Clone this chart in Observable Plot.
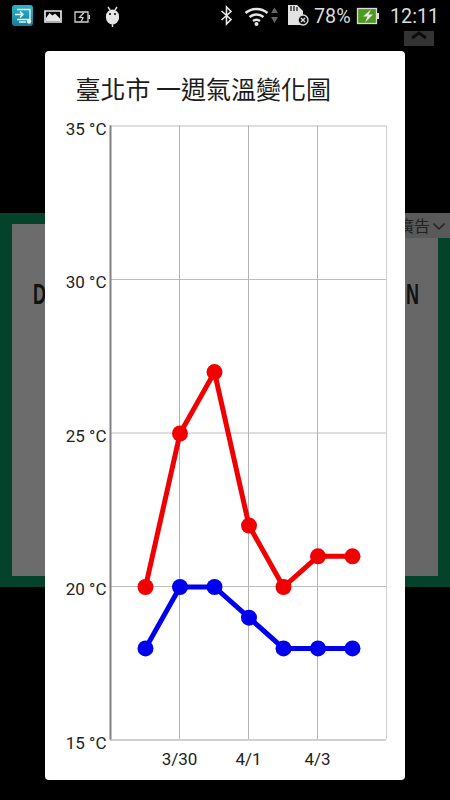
<!DOCTYPE html>
<html lang="zh-Hant">
<head>
<meta charset="utf-8">
<script src="https://cdn.jsdelivr.net/npm/d3@7"></script>
<script src="https://cdn.jsdelivr.net/npm/@observablehq/plot@0.6"></script>
<style>
html,body{margin:0;padding:0;background:#000;width:450px;height:800px;overflow:hidden}
.abs{position:absolute}
#band{left:0;top:213px;width:450px;height:374px;background:#04432b}
#panel{left:12px;top:224px;width:426px;height:352px;background:linear-gradient(90deg,#6c6c6c 0,#6c6c6c 30px,#666 100%)}
.ad{font:700 30px/30px "Liberation Sans",sans-serif;color:#111;transform:scaleX(.6);transform-origin:left top}
#drop{left:405px;top:213px;width:45px;height:25px;background:#595959}
#dropText{left:398px;top:213px;font:16px/25px "Noto Sans CJK TC",sans-serif;color:#222;white-space:nowrap}
#modal{left:45px;top:51px;width:360px;height:729px;background:#fff;border-radius:4px}
#title{left:75.500px;top:70px;font:25px/36px "Noto Sans CJK TC",sans-serif;color:#1c1c1c;white-space:nowrap}
#chart{left:0;top:0}
#status{left:0;top:0;width:450px;height:32px;color:#dcdcdc;font:19.7px/33px Roboto,sans-serif}
#status span{position:absolute;top:0;white-space:nowrap}
</style>
</head>
<body>
<div class="abs" id="band"></div>
<div class="abs" id="panel"></div>
<div class="abs ad" style="left:33px;top:279px">D</div>
<div class="abs ad" style="left:406px;top:279px">N</div>
<div class="abs" id="drop"></div>
<div class="abs" id="dropText">廣告</div>
<svg class="abs" style="left:0;top:0" width="450" height="800" fill="none">
  <defs><linearGradient id="teal" x1="0" y1="0" x2="0" y2="1"><stop offset="0" stop-color="#2fb4c8"/><stop offset="1" stop-color="#177d94"/></linearGradient></defs>
  <path d="M433.500 223.500l5.500 5.500 5.500-5.500" stroke="#222" stroke-width="1.500"/>
  <rect x="404" y="31" width="30" height="15" fill="#333"/>
  <path d="M412 38l7-5 7 5" stroke="#0c0c0c" stroke-width="3"/>
  <rect x="12" y="5" width="21" height="21" rx="3" fill="url(#teal)"/>
  <path d="M17 9.500h13v10H17M15 14.500h8M20 11.500l3 3-3 3M19 22h7" stroke="#e2f5f8" stroke-width="1.400"/>
  <circle cx="29" cy="21.500" r="2.200" fill="#e2f5f8"/>
  <path d="M45 11h16v11H45z" fill="#000" stroke="#e6e6e6" stroke-width="1.700"/>
  <path d="M46 21v-3l3.500-5 3 2.500 2.500-2 5 5v2.500z" fill="#e6e6e6"/>
  <path d="M75 12h13v10H75z" stroke="#cfcfcf" stroke-width="1.300"/><rect x="88.500" y="15" width="1.500" height="4" fill="#cfcfcf"/>
  <path d="M84 12.500l-4.500 5h3.500l-2 4.500" stroke="#cfcfcf" stroke-width="1.200"/>
  <path d="M106 16a6.500 6.500 0 0 1 13 0v2a6.500 6.500 0 0 1-13 0z" fill="#e6e6e6"/>
  <path d="M108 7l2 3M117 7l-2 3M112.500 23v4" stroke="#dcdcdc" stroke-width="1.500"/>
  <circle cx="110" cy="14" r="1" fill="#000"/><circle cx="115" cy="14" r="1" fill="#000"/>
  <path d="M221.500 11l9.500 8.500-4.500 4.500V7l4.500 4.500-9.500 8.500" stroke="#e6e6e6" stroke-width="1.600"/>
  <path d="M245.500 13a17 17 0 0 1 22 0M249.500 17a11 11 0 0 1 14 0M253 21a6 6 0 0 1 7 0" stroke="#e6e6e6" stroke-width="2.400"/>
  <circle cx="256.500" cy="24" r="2" fill="#e6e6e6"/>
  <path d="M271 13l3.500-5.500 3.500 5.500zM271 17l3.500 6 3.500-6z" fill="#666"/>
  <path d="M288 5h9l6 6v14h-15z" fill="#e2e2e2"/>
  <path d="M291 6v5M294 6v5M297 7v4" stroke="#222" stroke-width="1.300"/>
  <circle cx="303" cy="20" r="5" fill="#111" stroke="#dcdcdc" stroke-width="1.400"/><path d="M301 18l4 4M305 18l-4 4" stroke="#dcdcdc" stroke-width="1.300"/>
  <rect x="357.500" y="8.500" width="19" height="15" fill="#4f9a1c" stroke="#dcdcdc" stroke-width="1.300"/><rect x="377" y="13" width="2" height="6" fill="#dcdcdc"/>
  <path d="M371 9.500l-8 7h4.500l-2.500 6 8-8h-4.500z" fill="#e8e8e8"/>
</svg>
<div class="abs" id="status"><span style="left:314px">78%</span><span style="left:390px">12:11</span></div>
<div class="abs" id="modal"></div>
<div class="abs" id="title">臺北市 一週氣溫變化圖</div>
<div class="abs" id="chart"></div>
<script>
const dates = ["2016-03-29","2016-03-30","2016-03-31","2016-04-01","2016-04-02","2016-04-03","2016-04-04"];
const highs = [20,25,27,22,20,21,21];
const lows  = [18,20,20,19,18,18,18];
const xTicks = ["2016-03-30","2016-04-01","2016-04-03"];
const yTicks = [15,20,25,30,35];
const xDomain = ["2016-03-28","2016-04-05"];

const parse = d3.utcParse("%Y-%m-%d");
const fmt = d3.utcFormat("%-m/%-d");
const high = dates.map((d,i)=>({date:parse(d),value:highs[i]}));
const low  = dates.map((d,i)=>({date:parse(d),value:lows[i]}));
const xT = xTicks.map(parse);

const plot = Plot.plot({
  width:450, height:800,
  marginLeft:110, marginRight:64, marginTop:125.5, marginBottom:60.5,
  style:{background:"transparent",fontFamily:"Roboto, sans-serif",fontSize:"17px",color:"#222"},
  x:{type:"utc",domain:xDomain.map(parse)},
  y:{domain:[15,35]},
  marks:[
    Plot.gridY(yTicks,{stroke:"#bcbcbc",strokeOpacity:1,strokeWidth:1}),
    Plot.gridX(xT,{stroke:"#b4b4b4",strokeOpacity:1,strokeWidth:1}),
    Plot.ruleX([parse(xDomain[1])],{stroke:"#cfcfcf",strokeWidth:1}),
    Plot.ruleY([15],{stroke:"#d0d0d0",strokeWidth:2}),
    Plot.ruleX([parse(xDomain[0])],{stroke:"#808080",strokeWidth:2}),
    Plot.axisY({ticks:yTicks,tickSize:0,tickPadding:4,label:null,tickFormat:d=>`${d} °C`,fontSize:17,dy:3.5,fill:"#222"}),
    Plot.axisX({ticks:xT,tickSize:0,tickPadding:13,label:null,tickFormat:fmt,fontSize:17,fill:"#222"}),
    Plot.line(high,{x:"date",y:"value",stroke:"#f00000",strokeWidth:5,dx:0.5,dy:0.5}),
    Plot.line(low,{x:"date",y:"value",stroke:"#0000ee",strokeWidth:5,dx:0.5,dy:0.5}),
    Plot.dot(high,{x:"date",y:"value",fill:"#f00000",r:8,dx:0.5,dy:0.5}),
    Plot.dot(low,{x:"date",y:"value",fill:"#0000ee",r:8,dx:0.5,dy:0.5})
  ]
});
document.getElementById("chart").append(plot);
</script>
</body>
</html>
